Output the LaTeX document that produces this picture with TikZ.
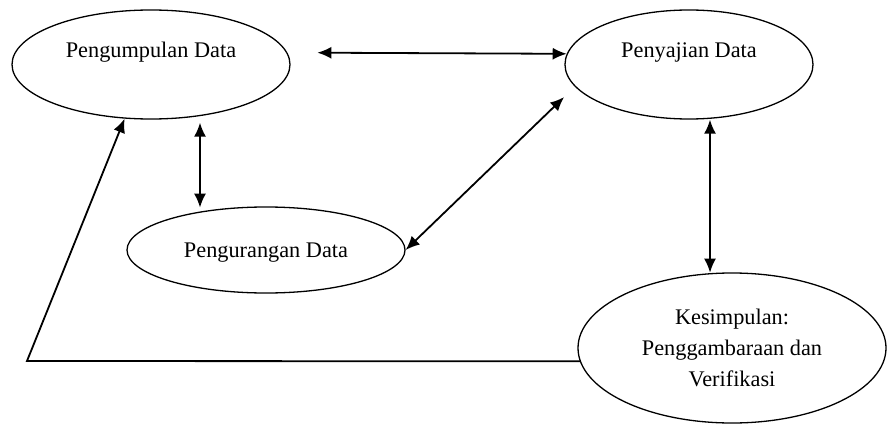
\documentclass[tikz,border=0pt]{standalone}
\usepackage{fontspec}
\setmainfont{Liberation Serif}
\usetikzlibrary{shapes.geometric,arrows.meta}
\begin{document}
\begin{tikzpicture}[x=1pt,y=-1pt,>={Latex[length=14pt,width=12pt]},
  bulat/.style={draw, ellipse, line width=1.3pt, inner sep=2pt, font=\fontsize{22.3}{27}\selectfont},
  panah/.style={line width=1.8pt}]
\useasboundingbox (0,0) rectangle (888,425);

\node(Kumpul)[bulat, minimum width=278pt, minimum height=109pt, text height=15pt, text depth=28pt] at (151,64.5) {Pengumpulan Data};
\node(Sajian)[bulat, minimum width=248pt, minimum height=109pt, text height=15pt, text depth=28pt] at (689,64.5) {Penyajian Data};
\node(Kurang)[bulat, minimum width=278pt, minimum height=86pt, text height=15pt, text depth=1pt] at (266,250) {Pengurangan Data};
\node(Simpul)[bulat, font=\fontsize{22.3}{31}\selectfont, align=center, minimum width=308pt, minimum height=150pt] at (732,348) {Kesimpulan:\\ Penggambaraan dan\\ Verifikasi};
\coordinate(Sudut) at (27,361);

\draw[panah, <->, shorten <=30pt] (Kumpul.5) -- (Sajian.175);
\draw[panah, <->] ([xshift=49pt,yshift=-3pt]Kumpul.south) -- ++(0,85);
\draw[panah, <->, shorten >=15pt] (Kurang.east) -- (Sajian.191);
\draw[panah, <->] ([xshift=21pt]Sajian.south) -- ++(0,153);
\draw[panah, ->] (Simpul.185) -- (Sudut) -- (Kumpul.244);
\end{tikzpicture}
\end{document}
